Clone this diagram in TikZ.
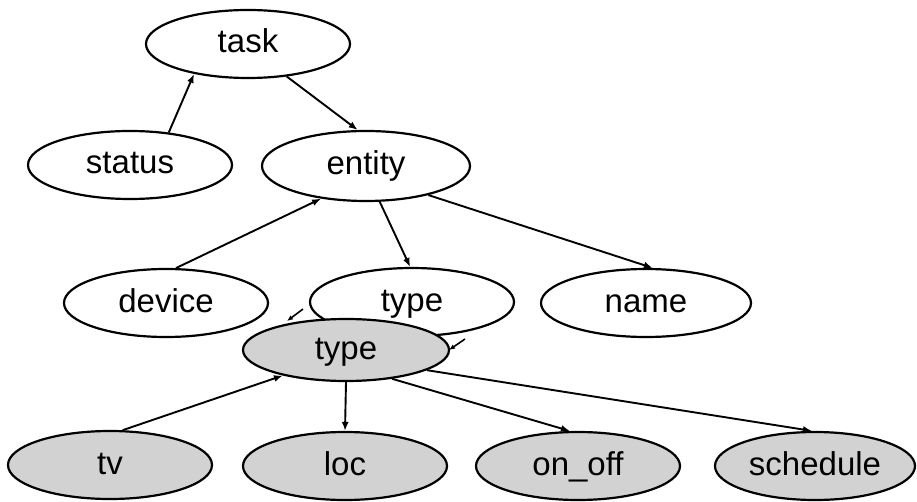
\documentclass[tikz,border=0pt]{standalone}
\usepackage{fontspec}
\setmainfont{Liberation Sans}
\usetikzlibrary{shapes.geometric,arrows.meta}
\begin{document}
\begin{tikzpicture}[x=1pt,y=-1pt,
  nd/.style={ellipse,draw,line width=2.2pt,inner sep=0pt,minimum width=204pt,minimum height=68pt,text height=24pt,text depth=6pt,font=\fontsize{33}{38}\selectfont},
  gnd/.style={nd,fill=gray!35},
  conn/.style={line width=1.9pt,-{Latex[length=9pt,width=7pt]}},
  tick/.style={line width=1.6pt,-{Latex[length=6pt,width=5pt]}}]
\useasboundingbox (0,0) rectangle (917,502);
\node[nd] (task) at (248,44) {task};
\node[nd] (status) at (130,165) {status};
\node[nd,minimum width=208pt,minimum height=70pt] (entity) at (366,166) {entity};
\node[nd] (device) at (166,303) {device};
\node[nd] (type) at (412,302) {type};
\node[nd,minimum width=210pt] (name) at (646,303) {name};
\node[gnd,minimum width=206pt,minimum height=62pt] (gtype) at (346,350) {type};
\node[gnd] (tv) at (110,465) {tv};
\node[gnd] (loc) at (345,466) {loc};
\node[gnd] (onoff) at (578,466) {on\_off};
\node[gnd,minimum width=200pt] (sched) at (815,466) {schedule};
\draw[conn] (status.40) -- (task.209);
\draw[conn] (task.-40) -- (entity.103);
\draw[conn] (device.74) -- (entity.216);
\draw[conn] (entity.-69) -- (type.93);
\draw[conn] (entity.-25) -- (name.79);
\draw[conn] (tv.70) -- (gtype.202);
\draw[conn] (gtype.-90) -- (loc.90);
\draw[conn] (gtype.-32) -- (onoff.103);
\draw[conn] (gtype.-14) -- (sched.95);
\coordinate (l1) at (303,309);
\coordinate (l2) at (287,321);
\coordinate (r1) at (465,339);
\coordinate (r2) at (449,350);
\draw[tick] (l1) -- (l2);
\draw[tick] (r1) -- (r2);
\end{tikzpicture}
\end{document}
